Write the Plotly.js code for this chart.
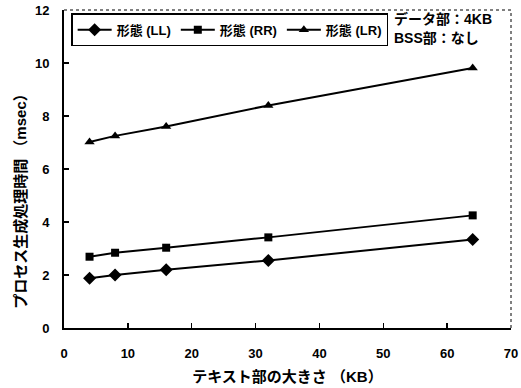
<!DOCTYPE html>
<html><head><meta charset="utf-8">
<script src="https://cdn.plot.ly/plotly-3.0.1.min.js"></script>
<style>body{margin:0;background:#fff}#c{width:521px;height:388px}</style>
</head><body><div id="c"></div>
<script>
const textSize = [4, 8, 16, 32, 64];
const seriesNames = ['形態 (LL)', '形態 (RR)', '形態 (LR)'];
const timeLL = [1.88, 2.0, 2.2, 2.55, 3.34];
const timeRR = [2.69, 2.84, 3.03, 3.42, 4.25];
const timeLR = [7.02, 7.25, 7.6, 8.4, 9.81];
const xTicks = [0, 10, 20, 30, 40, 50, 60, 70];
const yTicks = [0, 2, 4, 6, 8, 10, 12];
const noteLines = ['データ部：4KB', 'BSS部：なし'];
const xTitle = 'テキスト部の大きさ （KB）';
const yTitle = 'プロセス生成処理時間 （msec）';

const F = '"Liberation Sans", "Noto Sans CJK JP", sans-serif';
const symbols = ['diamond', 'square', 'triangle-up'];
const sizes = [10, 8, 9];
const data = [timeLL, timeRR, timeLR].map((ys, i) => ({
  x: textSize, y: ys, name: seriesNames[i], type: 'scatter', mode: 'lines+markers',
  line: {color: '#000', width: 2},
  marker: {symbol: symbols[i], size: sizes[i], color: '#000'}
}));

const layout = {
  width: 521, height: 388,
  margin: {l: 64, r: 10, t: 10, b: 60},
  paper_bgcolor: '#fff', plot_bgcolor: '#fff',
  font: {family: F, color: '#000', size: 12},
  showlegend: true,
  legend: {x: 0.016, y: 0.99, xanchor: 'left', yanchor: 'top', orientation: 'h',
    bordercolor: '#000', borderwidth: 1.5, bgcolor: '#fff',
    font: {family: F, size: 13, weight: 'bold'}, itemwidth: 34, tracegroupgap: 0},
  xaxis: {range: [0, 70], tickvals: xTicks, ticktext: xTicks.map(String),
    showgrid: false, zeroline: false, showline: true, linecolor: '#000', linewidth: 2, mirror: false,
    ticks: 'inside', ticklen: 5, tickcolor: '#000', tickwidth: 1.5, ticklabelstandoff: 12,
    tickfont: {family: F, size: 13, weight: 'bold'},
    title: {text: xTitle, font: {family: F, size: 15, weight: 'bold'}, standoff: 12}},
  yaxis: {range: [0, 12], tickvals: yTicks, ticktext: yTicks.map(String),
    showgrid: false, zeroline: false, showline: true, linecolor: '#000', linewidth: 2, mirror: false,
    ticks: 'inside', ticklen: 5, tickcolor: '#000', tickwidth: 1.5, ticklabelstandoff: 10,
    tickfont: {family: F, size: 13, weight: 'bold'}},
  shapes: [
    {type: 'line', xref: 'paper', yref: 'paper', x0: 0, x1: 1, y0: 1, y1: 1, line: {color: '#000', width: 1, dash: 'dot'}},
    {type: 'line', xref: 'paper', yref: 'paper', x0: 1, x1: 1, y0: 0, y1: 1, line: {color: '#000', width: 1, dash: 'dot'}}
  ],
  annotations: [
    {xref: 'paper', yref: 'paper', x: 0.733, y: 0.972, xanchor: 'left', yanchor: 'middle',
     showarrow: false, text: noteLines[0], font: {family: F, size: 14, weight: 'bold'}},
    {xref: 'paper', yref: 'paper', x: 0.733, y: 0.912, xanchor: 'left', yanchor: 'middle',
     showarrow: false, text: noteLines[1], font: {family: F, size: 14, weight: 'bold'}},
    {xref: 'paper', yref: 'paper', x: -0.098, y: 0.41, xanchor: 'center', yanchor: 'middle',
     textangle: -90, showarrow: false, text: yTitle, font: {family: F, size: 15, weight: 'bold'}}
  ]
};
Plotly.newPlot('c', data, layout, {displayModeBar: false, staticPlot: true});
</script></body></html>
